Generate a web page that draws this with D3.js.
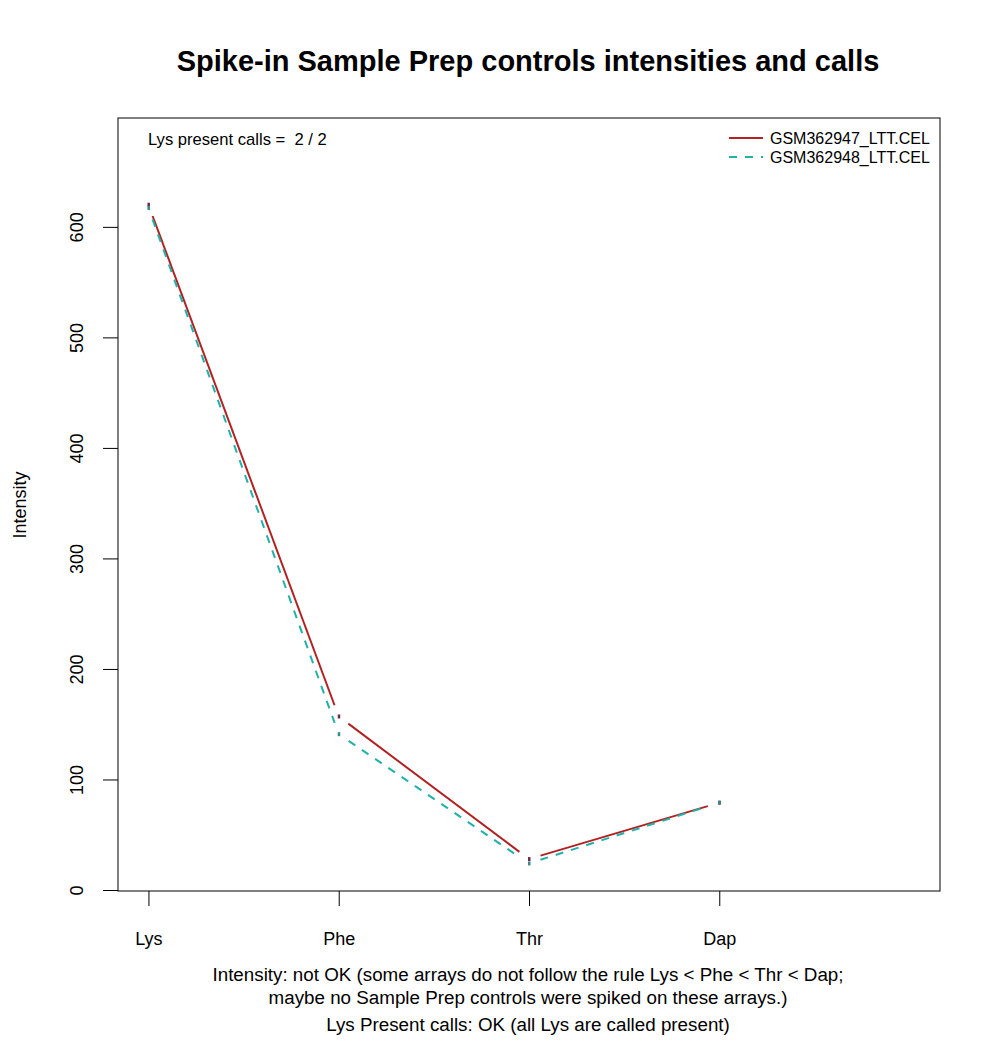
<!DOCTYPE html>
<html><head><meta charset="utf-8">
<script src="https://cdn.jsdelivr.net/npm/d3@7"></script>
<style>body{margin:0;background:#fff}svg{display:block}text{font-family:"Liberation Sans",Arial,sans-serif;fill:#000}</style>
</head><body>
<svg id="c" width="1000" height="1058"></svg>
<script>
const categories = ["Lys", "Phe", "Thr", "Dap"];
const seriesNames = ["GSM362947_LTT.CEL", "GSM362948_LTT.CEL"];
const series1 = [620, 157, 28, 79];
const series2 = [617, 141, 24, 79];
const yTicks = [0, 100, 200, 300, 400, 500, 600];
const colors = ["#B22222", "#20B2AA"];
const dashes = [null, "8,8"];

const svg = d3.select("#c");
const L = 118, R = 940, T = 118, B = 891;
const x = d3.scaleLinear().domain([0.84, 5.16]).range([L, R]);
const y = d3.scaleLinear().domain([0, 698.5]).range([890, T]);

// Title
svg.append("text").attr("x", 528).attr("y", 71).attr("text-anchor", "middle")
  .style("font-size", "29px").style("font-weight", "bold")
  .text("Spike-in Sample Prep controls intensities and calls");

// Box
svg.append("rect").attr("x", L).attr("y", T).attr("width", R - L).attr("height", B - T)
  .attr("fill", "none").attr("stroke", "#000").attr("stroke-width", 1);

// Y axis
const yAxis = d3.axisLeft(y).tickValues(yTicks).tickSize(15).tickFormat(d3.format("d"));
const gy = svg.append("g").attr("transform", `translate(${L},0)`).call(yAxis);
gy.select(".domain").remove();
gy.selectAll("line").attr("stroke", "#000");
gy.selectAll("text")
  .style("font-size", "18px").style("font-family", "Liberation Sans, Arial, sans-serif")
  .attr("x", 0).attr("y", 0).attr("dy", "0.35em").attr("text-anchor", "middle")
  .attr("transform", "translate(-41,0) rotate(-90)");

// X axis
const xAxis = d3.axisBottom(x).tickValues([1, 2, 3, 4]).tickSize(15).tickPadding(26)
  .tickFormat(d => categories[d - 1]);
const gx = svg.append("g").attr("transform", `translate(0,${B})`).call(xAxis);
gx.select(".domain").remove();
gx.selectAll("line").attr("stroke", "#000");
gx.selectAll("text").style("font-size", "18px").style("font-family", "Liberation Sans, Arial, sans-serif");

// Y label
svg.append("text").attr("transform", "translate(26,505) rotate(-90)").attr("text-anchor", "middle")
  .style("font-size", "18px").text("Intensity");

// Lines with gaps (type = "b")
const gap = 12;
[series1, series2].forEach((vals, si) => {
  const pts = vals.map((v, i) => [x(i + 1), y(v)]);
  for (let i = 0; i < pts.length - 1; i++) {
    const [x0, y0] = pts[i], [x1, y1] = pts[i + 1];
    const dx = x1 - x0, dy = y1 - y0, len = Math.hypot(dx, dy);
    const ux = dx / len, uy = dy / len;
    svg.append("line")
      .attr("x1", x0 + ux * gap).attr("y1", y0 + uy * gap)
      .attr("x2", x1 - ux * gap).attr("y2", y1 - uy * gap)
      .attr("stroke", colors[si]).attr("stroke-width", 2)
      .attr("stroke-dasharray", dashes[si]);
  }
  svg.selectAll(null).data(pts).enter().append("rect")
    .attr("x", d => d[0] - 1).attr("y", d => d[1] - 2)
    .attr("width", 2.5).attr("height", 4)
    .attr("fill", si === 0 ? "#6e2a4a" : "#3a8c88");
});

// Present calls text
svg.append("text").attr("x", 148).attr("y", 145).style("font-size", "16.6px")
  .style("white-space", "pre").text("Lys present calls =  2 / 2");

// Legend
seriesNames.forEach((n, i) => {
  const ly = 138 + i * 19;
  svg.append("line").attr("x1", 729).attr("x2", 763).attr("y1", ly).attr("y2", ly)
    .attr("stroke", colors[i]).attr("stroke-width", 2).attr("stroke-dasharray", dashes[i]);
  svg.append("text").attr("x", 770).attr("y", ly + 5.5).style("font-size", "16px").text(n);
});

// Bottom notes
const notes = [
  ["Intensity: not OK (some arrays do not follow the rule Lys < Phe < Thr < Dap;", 981],
  ["maybe no Sample Prep controls were spiked on these arrays.)", 1004],
  ["Lys Present calls: OK (all Lys are called present)", 1031]
];
notes.forEach(([t, yy]) => {
  svg.append("text").attr("x", 528).attr("y", yy).attr("text-anchor", "middle")
    .style("font-size", "18.8px").text(t);
});
</script>
</body></html>
